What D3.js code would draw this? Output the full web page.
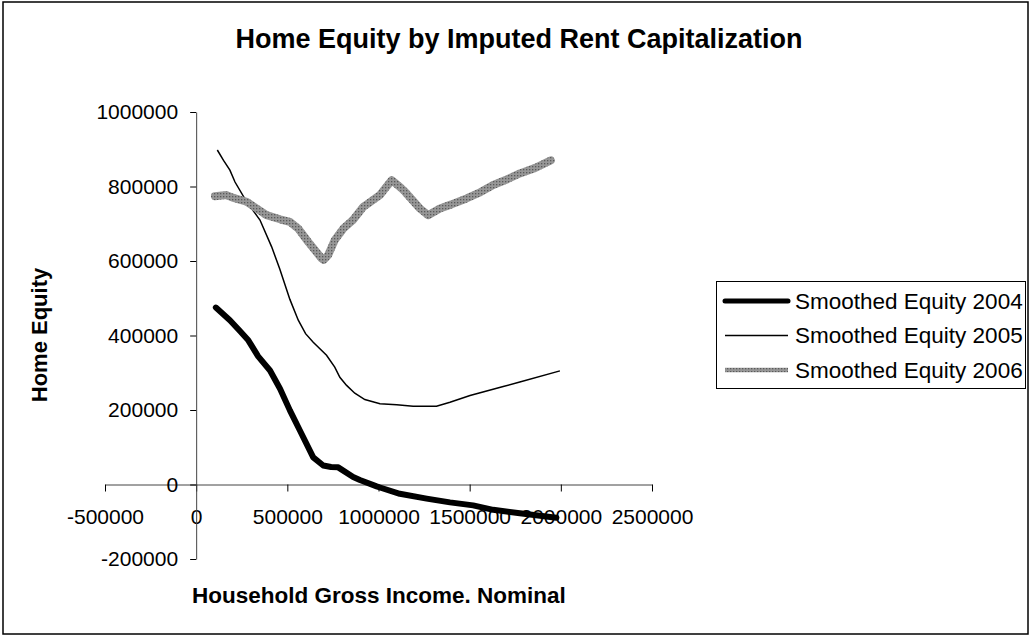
<!DOCTYPE html>
<html>
<head>
<meta charset="utf-8">
<script src="https://cdn.jsdelivr.net/npm/d3@7"></script>
<style>
  body { margin: 0; background: #fff; }
  text { font-family: "Liberation Sans", Arial, sans-serif; }
</style>
</head>
<body>
<div id="plot"></div>
<script>
// series values
const income2004 = [108000, 185000, 240000, 286000, 340000, 405000, 460000, 514000, 569000, 642000, 697000, 740000, 779000, 861000, 898000, 990000, 1008000, 1117000, 1264000, 1392000, 1519000, 1629000, 1775000, 1976000];
const equity2004 = [475000, 441000, 412000, 387000, 344000, 306000, 257000, 199000, 145000, 73000, 51000, 47000, 46000, 20000, 12000, -5000, -8000, -25000, -38000, -48000, -56000, -68000, -77000, -89000];

const income2005 = [116000, 150000, 185000, 213000, 277000, 350000, 414000, 459000, 514000, 560000, 600000, 642000, 715000, 760000, 788000, 825000, 870000, 925000, 1008000, 1100000, 1190000, 1318000, 1392000, 1502000, 1684000, 1775000, 1995000];
const equity2005 = [898000, 870000, 844000, 812000, 759000, 710000, 638000, 578000, 497000, 441000, 405000, 382000, 347000, 315000, 288000, 266000, 245000, 228000, 217000, 214000, 210000, 210000, 221000, 239000, 263000, 275000, 305000];

const income2006 = [103000, 167000, 200000, 277000, 386000, 460000, 514000, 560000, 615000, 688000, 700000, 724000, 760000, 807000, 860000, 916000, 1008000, 1072000, 1117000, 1145000, 1227000, 1272000, 1337000, 1400000, 1483000, 1560000, 1629000, 1700000, 1775000, 1860000, 1945000];
const equity2006 = [774000, 777000, 770000, 759000, 723000, 712000, 705000, 687000, 651000, 607000, 603000, 616000, 656000, 687000, 710000, 745000, 777000, 817000, 799000, 786000, 741000, 723000, 741000, 752000, 768000, 785000, 804000, 818000, 835000, 850000, 870000];

const seriesNames = ["Smoothed Equity 2004", "Smoothed Equity 2005", "Smoothed Equity 2006"];
const xTicks = [-500000, 0, 500000, 1000000, 1500000, 2000000, 2500000];
const yTicks = [-200000, 0, 200000, 400000, 600000, 800000, 1000000];

const chartTitle = "Home Equity by Imputed Rent Capitalization";
const xTitle = "Household Gross Income. Nominal";
const yTitle = "Home Equity";

const width = 1032, height = 637;

const svg = d3.select("#plot").append("svg")
  .attr("width", width)
  .attr("height", height);

// hatched grey for the 2006 line
const defs = svg.append("defs");
const pat = defs.append("pattern")
  .attr("id", "grey-dots")
  .attr("patternUnits", "userSpaceOnUse")
  .attr("width", 3).attr("height", 3);
pat.append("rect").attr("width", 3).attr("height", 3).attr("fill", "#979797");
pat.append("rect").attr("x", 1).attr("y", 1).attr("width", 1.3).attr("height", 1.3).attr("fill", "#5a5a5a");

// outer frame
svg.append("rect")
  .attr("x", 3).attr("y", 2)
  .attr("width", 1025).attr("height", 632)
  .attr("fill", "none")
  .attr("stroke", "#000")
  .attr("stroke-width", 1.5);

const x = d3.scaleLinear().domain([-500000, 2500000]).range([105, 652]);
const y = d3.scaleLinear().domain([-200000, 1000000]).range([559, 112]);

// plain hyphen for negatives, like the original
const fmt = d => String(d);

// axes cross at zero
const xAxis = svg.append("g")
  .attr("transform", `translate(0,${y(0)})`)
  .call(d3.axisBottom(x).tickValues(xTicks).tickFormat(fmt)
    .tickSizeInner(7).tickSizeOuter(0).tickPadding(18));

const yAxis = svg.append("g")
  .attr("transform", `translate(${x(0)},0)`)
  .call(d3.axisLeft(y).tickValues(yTicks).tickFormat(fmt)
    .tickSizeInner(6).tickSizeOuter(0).tickPadding(12));

[xAxis, yAxis].forEach(g => {
  g.selectAll("text")
    .attr("fill", "#000")
    .style("font-size", "21px")
    .style("font-family", '"Liberation Sans", Arial, sans-serif');
  g.select(".domain").attr("stroke", "#444");
  g.selectAll(".tick line").attr("stroke", "#000");
});

const line = d3.line().x(d => x(d[0])).y(d => y(d[1]));

const pts2004 = d3.zip(income2004, equity2004);
const pts2005 = d3.zip(income2005, equity2005);
const pts2006 = d3.zip(income2006, equity2006);

svg.append("path")
  .datum(pts2004)
  .attr("d", line)
  .attr("fill", "none")
  .attr("stroke", "#000")
  .attr("stroke-width", 6)
  .attr("stroke-linejoin", "round")
  .attr("stroke-linecap", "round");

svg.append("path")
  .datum(pts2005)
  .attr("d", line)
  .attr("fill", "none")
  .attr("stroke", "#000")
  .attr("stroke-width", 1.5);

svg.append("path")
  .datum(pts2006)
  .attr("d", line)
  .attr("fill", "none")
  .attr("stroke", "url(#grey-dots)")
  .attr("stroke-width", 8)
  .attr("stroke-linejoin", "round")
  .attr("stroke-linecap", "round");

// titles
svg.append("text")
  .attr("x", 519).attr("y", 48)
  .attr("text-anchor", "middle")
  .style("font-size", "27px")
  .style("font-weight", "bold")
  .text(chartTitle);

svg.append("text")
  .attr("x", 192).attr("y", 603)
  .style("font-size", "22.5px")
  .style("font-weight", "bold")
  .text(xTitle);

svg.append("text")
  .attr("transform", "translate(47,335) rotate(-90)")
  .attr("text-anchor", "middle")
  .style("font-size", "22px")
  .style("font-weight", "bold")
  .text(yTitle);

// legend
const legend = svg.append("g");
legend.append("rect")
  .attr("x", 716.5).attr("y", 281.5)
  .attr("width", 309).attr("height", 107)
  .attr("fill", "#fff")
  .attr("stroke", "#000")
  .attr("stroke-width", 1);

const legendStyles = [
  { stroke: "#000", width: 5, cap: "round" },
  { stroke: "#000", width: 1.5, cap: "butt" },
  { stroke: "url(#grey-dots)", width: 4.5, cap: "butt" }
];

const rows = legend.selectAll("g.row")
  .data(seriesNames)
  .join("g")
  .attr("class", "row")
  .attr("transform", (d, i) => `translate(0,${301 + i * 34.5})`);

rows.append("line")
  .attr("x1", 725).attr("x2", 788)
  .attr("y1", 0).attr("y2", 0)
  .attr("stroke", (d, i) => legendStyles[i].stroke)
  .attr("stroke-width", (d, i) => legendStyles[i].width)
  .attr("stroke-linecap", (d, i) => legendStyles[i].cap);

rows.append("text")
  .attr("x", 795).attr("y", 7.5)
  .style("font-size", "22.5px")
  .text(d => d);
</script>
</body>
</html>
